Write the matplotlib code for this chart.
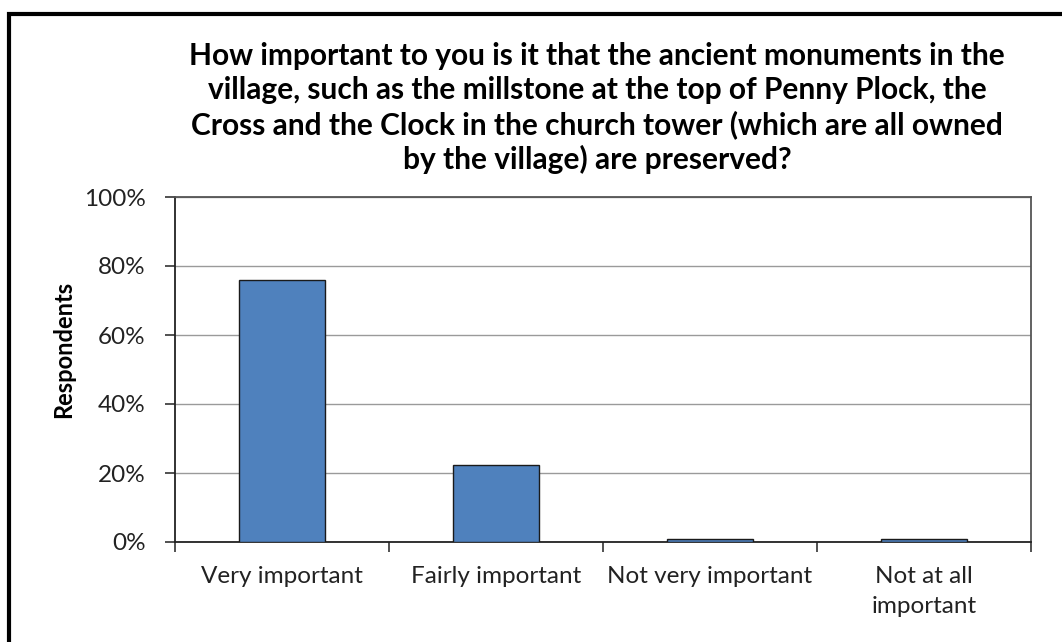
import matplotlib
matplotlib.use("Agg")
import matplotlib.pyplot as plt
from matplotlib.patches import Rectangle
import numpy as np

plt.rcParams['font.family'] = ['Lato', 'DejaVu Sans']

categories = ['Very important', 'Fairly important', 'Not very important', 'Not at all\nimportant']
values = [75.9, 22.3, 0.8, 0.8]
yticks = [0, 20, 40, 60, 80, 100]
title = ('How important to you is it that the ancient monuments in the\n'
         'village, such as the millstone at the top of Penny Plock, the\n'
         'Cross and the Clock in the church tower (which are all owned\n'
         'by the village) are preserved?')

fig = plt.figure(figsize=(10.62, 6.42), dpi=100)
ax = fig.add_axes([175/1062, 1-542/642, (1031-175)/1062, (542-197)/642])

x = np.arange(len(categories))
ax.bar(x, values, width=0.4, color='#4F81BD', edgecolor='#1a1a1a', linewidth=1.0, zorder=3)

ax.set_xlim(-0.5, len(categories)-0.5)
ax.set_ylim(0, 100)
ax.set_yticks(yticks)
ax.set_yticklabels([f'{v}%' for v in yticks], fontsize=17.5, color='#222222')
ax.yaxis.grid(True, color='#9a9a9a', linewidth=1.0, zorder=0)

# category labels centred under bars, ticks on the boundaries
ax.set_xticks(x)
ax.set_xticklabels(categories, fontsize=17.5, color='#222222', linespacing=1.55)
ax.tick_params(axis='x', length=0, pad=17)
ax.set_xticks(np.arange(len(categories)+1) - 0.5, minor=True)
ax.tick_params(axis='x', which='minor', length=7, width=1.2, color='#333333', direction='out')
ax.tick_params(axis='y', length=7, width=1.2, color='#333333', direction='out', pad=14)

for s in ['left', 'bottom']:
    ax.spines[s].set_color('#222222')
    ax.spines[s].set_linewidth(1.3)
for s in ['top', 'right']:
    ax.spines[s].set_color('#555555')
    ax.spines[s].set_linewidth(1.3)

ax.set_ylabel('Respondents', fontsize=17, fontweight='bold')
ax.yaxis.set_label_coords(-0.117, 0.557)

fig.text(597/1062, 1-108/642, title, ha='center', va='center', fontsize=21.5,
         fontweight='bold', linespacing=1.24)

# outer chart frame
fig.patches.append(Rectangle((9/1062, -0.1), 1.2, 1.1 - 14/642,
                             transform=fig.transFigure, fill=False,
                             edgecolor='black', linewidth=3, zorder=10))

fig.savefig('out.png', dpi=100)
